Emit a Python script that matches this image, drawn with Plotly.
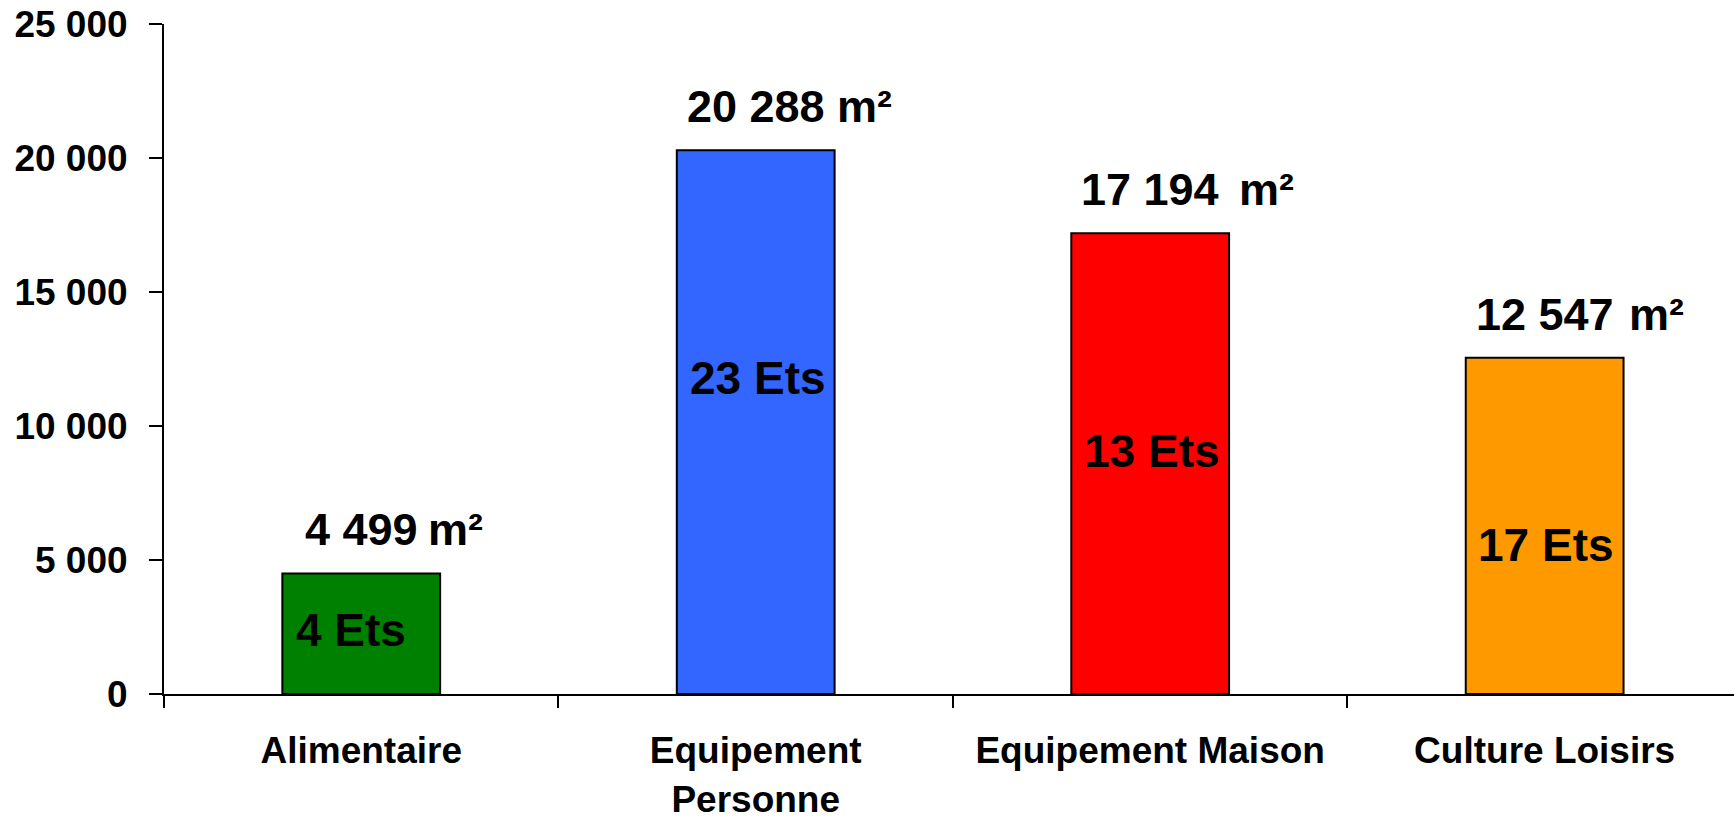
import plotly.graph_objects as go

# Surface de vente par secteur (m²) et nombre d'établissements
categories = ["Alimentaire", "Equipement<br>Personne", "Equipement Maison", "Culture Loisirs"]
surfaces = [4499, 20288, 17194, 12547]
etablissements = [4, 23, 13, 17]
y_ticks = [0, 5000, 10000, 15000, 20000, 25000]

bar_colors = ["#008000", "#3366FF", "#FF0000", "#FF9900"]
FONT = "Liberation Sans, Arial, sans-serif"

# where the "N Ets" text sits inside each bar (data units) and small horizontal nudges
ets_y = [2400, 11800, 9050, 5550]
ets_xshift = [-10, 2, 2, 1]
unit_gap = [8, 10, 18, 14]


def fmt(v):
    return f"{v:,}".replace(",", " ")


def text_width(s, size):
    # Arial / Liberation Sans Bold advance widths for digits and space
    w = {" ": 0.278}
    return sum(w.get(c, 0.556) for c in s) * size


x_idx = list(range(len(categories)))

fig = go.Figure(
    go.Bar(
        x=x_idx,
        y=surfaces,
        width=0.4,
        marker=dict(color=bar_colors, line=dict(color="black", width=2)),
        hoverinfo="skip",
    )
)

annotations = []
VAL_SIZE = 45
for i, v in enumerate(surfaces):
    label = fmt(v)
    annotations.append(dict(
        x=i, y=v, xref="x", yref="y", text=label, showarrow=False,
        xanchor="center", yanchor="bottom", yshift=16,
        font=dict(family=FONT, size=VAL_SIZE, color="black", weight="bold"),
    ))
    annotations.append(dict(
        x=i, y=v, xref="x", yref="y", text="m²", showarrow=False,
        xanchor="left", yanchor="bottom", yshift=16,
        xshift=text_width(label, VAL_SIZE) / 2 + unit_gap[i],
        font=dict(family=FONT, size=VAL_SIZE, color="black", weight="bold"),
    ))
    annotations.append(dict(
        x=i, y=ets_y[i], xref="x", yref="y", text=f"{etablissements[i]} Ets",
        showarrow=False, xanchor="center", yanchor="middle", xshift=ets_xshift[i],
        font=dict(family=FONT, size=46, color="black", weight="bold"),
    ))

fig.update_layout(
    width=1734,
    height=818,
    margin=dict(l=164, r=0, t=24, b=124, pad=0),
    paper_bgcolor="white",
    plot_bgcolor="white",
    separators=", ",
    showlegend=False,
    annotations=annotations,
    font=dict(family=FONT, color="black"),
)

fig.update_xaxes(
    type="linear",
    range=[-0.5, 3.48],
    tickmode="array",
    tickvals=x_idx,
    ticktext=categories,
    ticks="",
    showline=True,
    linecolor="black",
    linewidth=2,
    showgrid=False,
    zeroline=False,
    automargin=False,
    ticklabelstandoff=23,
    tickfont=dict(family=FONT, size=37, color="black", weight="bold"),
)

# category boundary ticks drawn as minor ticks at half-steps
fig.update_xaxes(
    minor=dict(tickmode="array", tickvals=[-0.5, 0.5, 1.5, 2.5, 3.5],
               ticks="outside", ticklen=12, tickwidth=2, tickcolor="black",
               showgrid=False),
)

fig.update_yaxes(
    range=[0, 25000],
    tickmode="array",
    tickvals=y_ticks,
    tickformat=",d",
    ticks="outside",
    ticklen=13,
    tickwidth=2,
    tickcolor="black",
    showline=True,
    linecolor="black",
    linewidth=2,
    showgrid=False,
    zeroline=False,
    automargin=False,
    ticklabelstandoff=14,
    tickfont=dict(family=FONT, size=37, color="black", weight="bold"),
)

fig.write_html("out.html")
